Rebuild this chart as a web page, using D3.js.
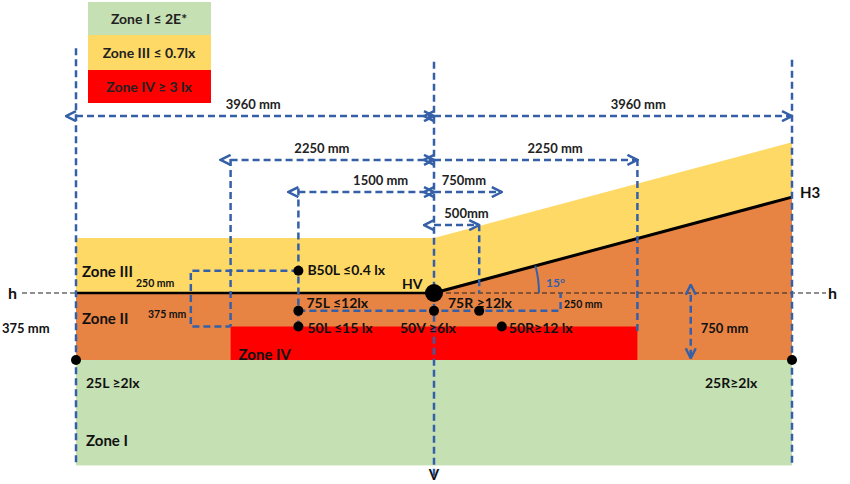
<!DOCTYPE html>
<html><head><meta charset="utf-8">
<script src="https://cdn.jsdelivr.net/npm/d3@7"></script>
<style>body{margin:0;background:#fff}text{font-family:Lato,"Liberation Sans",sans-serif;font-weight:bold}</style>
</head><body><svg id="c" width="850" height="484"></svg>
<script>
// geometry in mm (x: horizontal from V, y: vertical from h, up positive)
const halfWidth = 3960, zoneIIdepth = -750, zoneIbottom = -1930, zoneIIItop = 615, cutoffAngle = 15;
const zoneIVx = [-2250, 2250], zoneIVy = [-375, -750];
const legendLabels = ["Zone I \u2264 2E*", "Zone III \u2264 0.7lx", "Zone IV \u2265 3 lx"];
const legendColors = ["#c5e0b3", "#ffd966", "#ff0000"];
const points = [
  {x:-1500,y:250,r:5,label:"B50L \u22640.4 lx",dx:9,dy:4},
  {x:-1500,y:-200,r:5,label:"75L \u226412lx",dx:8,dy:-3},
  {x:-1500,y:-375,r:5,label:"50L \u226415 lx",dx:9,dy:6},
  {x:0,y:0,r:9,label:"HV",dx:-32,dy:-4},
  {x:0,y:-200,r:5,label:"75R \u226512lx",dx:14,dy:-3},
  {x:500,y:-200,r:5,label:"",dx:0,dy:0},
  {x:0,y:-375,r:0,label:"50V \u22656lx",dx:-34,dy:6},
  {x:750,y:-375,r:5,label:"50R\u226512 lx",dx:7,dy:6},
  {x:-3960,y:-750,r:5,label:"25L \u22652lx",dx:10,dy:28},
  {x:3960,y:-750,r:5,label:"25R\u22652lx",dx:-87,dy:28}
];
const verticals = [[-3960,2740,zoneIbottom],[0,2590,-2060],[3960,2610,zoneIbottom],[-2250,1500,-375],[-1500,1170,-375],[2250,1500,-430],[500,770,0]];
const dims = [ // x1,x2,y,label,labelX
  [-3960,0,1980,"3960 mm",-2000],[0,3960,1980,"3960 mm",2260],
  [-2250,0,1490,"2250 mm",-1240],[0,2250,1490,"2250 mm",1340],
  [-1500,0,1130,"1500 mm",-590],[0,750,1130,"750mm",330],[0,500,760,"500mm",360]
];
const zoneLabels = [["Zone III",-3960,250,6],["Zone II",-3960,-280,6],["Zone IV",-2250,-680,8],["Zone I",-3960,-1640,10],["H3",3960,1130,8]];

const svg = d3.select("#c");
const x = d3.scaleLinear().domain([-halfWidth, halfWidth]).range([76, 792]);
const y = d3.scaleLinear().domain([0, zoneIIdepth]).range([293, 360]);
const slope = Math.tan(cutoffAngle*Math.PI/180);
const kx = (x(1)-x(0)), ky = (y(0)-y(1));
const h3 = xx => xx <= 0 ? 0 : xx*kx*slope/ky;
const blue = "#3560a8";

svg.append("rect").attr("x",x(-halfWidth)).attr("y",y(zoneIIdepth)).attr("width",x(halfWidth)-x(-halfWidth)).attr("height",y(zoneIbottom)-y(zoneIIdepth)).attr("fill","#c5e0b3");
const line = d3.line().x(d=>x(d[0])).y(d=>y(d[1]));
svg.append("path").attr("d",line([[-halfWidth,zoneIIItop],[0,zoneIIItop],[halfWidth,zoneIIItop+h3(halfWidth)],[halfWidth,h3(halfWidth)],[0,0],[-halfWidth,0]])+"Z").attr("fill","#ffd966");
svg.append("path").attr("d",line([[-halfWidth,0],[0,0],[halfWidth,h3(halfWidth)],[halfWidth,zoneIIdepth],[-halfWidth,zoneIIdepth]])+"Z").attr("fill","#e88443");
svg.append("rect").attr("x",x(zoneIVx[0])).attr("y",y(zoneIVy[0])).attr("width",x(zoneIVx[1])-x(zoneIVx[0])).attr("height",y(zoneIVy[1])-y(zoneIVy[0])).attr("fill","#ff0000");

legendLabels.forEach((l,i)=>{
  const hts=[[2,34],[35,35],[70,33]][i];
  svg.append("rect").attr("x",88).attr("y",hts[0]).attr("width",123).attr("height",hts[1]).attr("fill",legendColors[i]);
  svg.append("text").attr("x",149).attr("y",hts[0]+hts[1]/2+5).attr("text-anchor","middle").attr("font-size",14).attr("fill","#222").text(l);
});

svg.append("line").attr("x1",22).attr("x2",826).attr("y1",y(0)).attr("y2",y(0)).attr("stroke","#222").attr("stroke-width",1.2).attr("stroke-dasharray","5,3");
svg.append("line").attr("x1",x(-halfWidth)).attr("x2",x(0)).attr("y1",y(0)).attr("y2",y(0)).attr("stroke","#000").attr("stroke-width",2.5);
svg.append("line").attr("x1",x(0)).attr("x2",x(halfWidth)).attr("y1",y(0)).attr("y2",y(h3(halfWidth))).attr("stroke","#000").attr("stroke-width",3);

const defs = svg.append("defs");
["s","e"].forEach(k=>defs.append("marker").attr("id","m"+k).attr("viewBox","0 0 10 10").attr("refX",k=="e"?9:1).attr("refY",5).attr("markerWidth",5).attr("markerHeight",5).attr("orient","auto-start-reverse")
  .append("path").attr("d","M1,1 L9,5 L1,9").attr("fill","none").attr("stroke",blue).attr("stroke-width",2));

const dash = sel => sel.attr("stroke",blue).attr("stroke-width",2.5).attr("stroke-dasharray","7,4").attr("fill","none");
verticals.forEach(v=>dash(svg.append("line").attr("x1",x(v[0])).attr("x2",x(v[0])).attr("y1",y(v[1])).attr("y2",y(v[2]))));
dims.forEach(d=>{
  dash(svg.append("line").attr("x1",x(d[0])).attr("x2",x(d[1])).attr("y1",y(d[2])).attr("y2",y(d[2]))).attr("marker-start","url(#ms)").attr("marker-end","url(#me)");
  svg.append("text").attr("x",x(d[4])).attr("y",y(d[2])-7).attr("text-anchor","middle").attr("font-size",13).attr("font-weight","normal").attr("fill","#222").text(d[3]);
});
dash(svg.append("path").attr("d",line([[-1500,250],[-2690,250],[-2690,-375],[-2250,-375]])));
dash(svg.append("path").attr("d",line([[-1500,-200],[1400,-200],[1400,0]])));
dash(svg.append("line").attr("x1",x(2840)).attr("x2",x(2840)).attr("y1",y(-20)).attr("y2",y(-730))).attr("marker-start","url(#ms)").attr("marker-end","url(#me)");
const ar = 105;
svg.append("path").attr("d",`M${x(0)+ar},${y(0)} A${ar},${ar} 0 0 0 ${x(0)+ar*Math.cos(cutoffAngle*Math.PI/180)},${y(0)-ar*Math.sin(cutoffAngle*Math.PI/180)}`).attr("stroke",blue).attr("stroke-width",2).attr("fill","none");

points.forEach(p=>{
  if(p.r) svg.append("circle").attr("cx",x(p.x)).attr("cy",y(p.y)).attr("r",p.r).attr("fill","#000");
  if(p.label) svg.append("text").attr("x",x(p.x)+p.dx).attr("y",y(p.y)+p.dy).attr("font-size",14).attr("fill","#111").text(p.label);
});
zoneLabels.forEach(z=>svg.append("text").attr("x",x(z[1])+z[3]).attr("y",y(z[2])+6).attr("font-size",15).attr("fill","#111").text(z[0]));

const txt=(t,xx,yy,s,a)=>svg.append("text").attr("x",xx).attr("y",yy).attr("font-size",s).attr("text-anchor",a||"start").attr("fill","#111").text(t);
txt("h",8,y(0)+6,16); txt("h",828,y(0)+6,16);
txt("375 mm",2,y(-375)+6,13); txt("V",x(0),480,15,"middle");
txt("250 mm",136,y(110)+4,10.5); txt("375 mm",148,y(-230)+4,10.5);
txt("250 mm",564,y(-110)+5,10.5); txt("750 mm",x(2840)+10,y(-375)+6,13);
txt("15°",x(0)+112,y(0)-6,12).attr("fill",blue);
</script></body></html>
